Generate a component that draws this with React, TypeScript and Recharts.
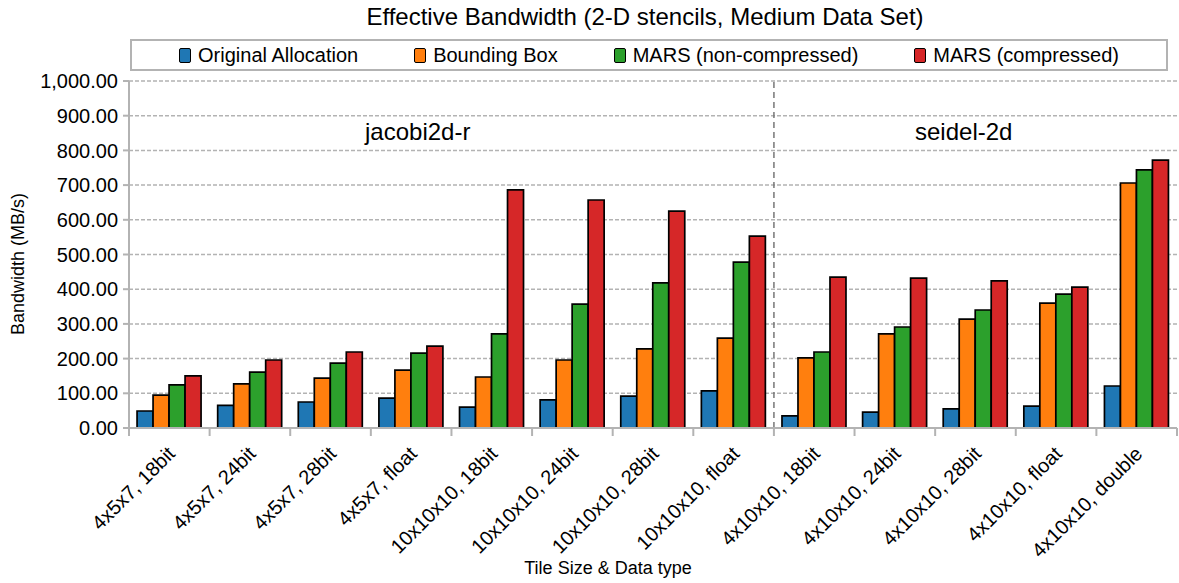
import React from "react";
import {
  BarChart,
  Bar,
  XAxis,
  YAxis,
  CartesianGrid,
  Legend,
  ReferenceLine,
  Label,
} from "recharts";

const categories = [
  "4x5x7, 18bit",
  "4x5x7, 24bit",
  "4x5x7, 28bit",
  "4x5x7, float",
  "10x10x10, 18bit",
  "10x10x10, 24bit",
  "10x10x10, 28bit",
  "10x10x10, float",
  "4x10x10, 18bit",
  "4x10x10, 24bit",
  "4x10x10, 28bit",
  "4x10x10, float",
  "4x10x10, double",
];

const originalAllocation = [49, 65, 75, 86, 60, 81, 92, 107, 35, 46, 55, 63, 121];
const boundingBox = [95, 127, 144, 167, 147, 196, 228, 259, 202, 271, 314, 360, 706];
const marsNonCompressed = [124, 161, 187, 216, 271, 357, 418, 478, 219, 291, 340, 386, 744];
const marsCompressed = [150, 196, 219, 236, 686, 657, 625, 553, 435, 432, 424, 406, 772];

const yTicks = [0, 100, 200, 300, 400, 500, 600, 700, 800, 900, 1000];

const series = [
  { key: "original", name: "Original Allocation", color: "#1f77b4" },
  { key: "bbox", name: "Bounding Box", color: "#ff7f0e" },
  { key: "marsNc", name: "MARS (non-compressed)", color: "#2ca02c" },
  { key: "marsC", name: "MARS (compressed)", color: "#d62728" },
];

const data = categories.map((name, i) => ({
  name,
  original: originalAllocation[i],
  bbox: boundingBox[i],
  marsNc: marsNonCompressed[i],
  marsC: marsCompressed[i],
}));

const W = 1179;
const H = 583;
const Y_AXIS_W = 129;
const X_AXIS_H = 155;
const MARGIN = { top: 81, right: 2, bottom: 0, left: 0 };
const STEP = (W - Y_AXIS_W - MARGIN.right) / categories.length;
const GRAY = "#b3b3b3";
const FONT = "'Liberation Sans', Arial, sans-serif";

const fmt = (v: number) =>
  v.toLocaleString("en-US", { minimumFractionDigits: 2, maximumFractionDigits: 2 });

const XTick = (props: any) => {
  const { x, y, payload, index } = props;
  const tx = x + 7;
  const ty = y + 27;
  return (
    <g>
      <line x1={x - STEP / 2} x2={x - STEP / 2} y1={y} y2={y + 8} stroke={GRAY} strokeWidth={2} />
      {index === categories.length - 1 && (
        <line x1={x + STEP / 2} x2={x + STEP / 2} y1={y} y2={y + 8} stroke={GRAY} strokeWidth={2} />
      )}
      <text
        x={tx}
        y={ty}
        textAnchor="end"
        fontSize={20}
        fill="#000"
        fontFamily={FONT}
        transform={`rotate(-45, ${tx}, ${ty})`}
      >
        {payload.value}
      </text>
    </g>
  );
};

const LegendBox = () => (
  <div
    style={{
      boxSizing: "border-box",
      width: 1038,
      height: 32,
      border: `2px solid ${GRAY}`,
      display: "flex",
      alignItems: "center",
      justifyContent: "center",
      gap: 56,
      fontFamily: FONT,
      fontSize: 20,
      color: "#000",
    }}
  >
    {series.map((s) => (
      <div key={s.key} style={{ display: "flex", alignItems: "center", gap: 7 }}>
        <span
          style={{
            display: "inline-block",
            width: 10,
            height: 13,
            background: s.color,
            border: "1px solid #000",
            borderRadius: 2,
          }}
        />
        <span>{s.name}</span>
      </div>
    ))}
  </div>
);

export default function App() {
  return (
    <div style={{ position: "absolute", left: 0, top: 0, width: W, height: H, background: "#fff", fontFamily: FONT }}>
      <div
        style={{
          position: "absolute",
          top: 3,
          left: 0,
          width: 1290,
          textAlign: "center",
          fontSize: 24,
          color: "#000",
        }}
      >
        Effective Bandwidth (2-D stencils, Medium Data Set)
      </div>
      <div style={{ position: "absolute", top: 118, left: 365, fontSize: 24, color: "#000" }}>jacobi2d-r</div>
      <div style={{ position: "absolute", top: 118, left: 915, fontSize: 24, color: "#000" }}>seidel-2d</div>
      <BarChart
        width={W}
        height={H}
        data={data}
        margin={MARGIN}
        barCategoryGap="10%"
        barGap={0}
      >
        <CartesianGrid vertical={false} stroke={GRAY} strokeDasharray="4 2" strokeWidth={1.5} />
        <XAxis
          dataKey="name"
          interval={0}
          height={X_AXIS_H}
          tickLine={false}
          tickSize={0}
          tickMargin={0}
          axisLine={{ stroke: GRAY, strokeWidth: 2 }}
          tick={<XTick />}
        >
          <Label
            content={() => (
              <text x={608} y={574} textAnchor="middle" fontSize={18} fill="#000" fontFamily={FONT}>
                Tile Size &amp; Data type
              </text>
            )}
          />
        </XAxis>
        <YAxis
          width={Y_AXIS_W}
          domain={[0, 1000]}
          ticks={yTicks}
          interval={0}
          tickFormatter={fmt}
          tickSize={6}
          tickMargin={5}
          tickLine={{ stroke: GRAY, strokeWidth: 2 }}
          axisLine={{ stroke: GRAY, strokeWidth: 2 }}
          tick={{ fill: "#000", fontSize: 20, fontFamily: FONT }}
        >
          <Label
            content={() => (
              <text
                x={24}
                y={264}
                textAnchor="middle"
                fontSize={18}
                fill="#000"
                fontFamily={FONT}
                transform="rotate(-90, 24, 264)"
              >
                Bandwidth (MB/s)
              </text>
            )}
          />
        </YAxis>
        <Legend
          layout="horizontal"
          verticalAlign="middle"
          align="center"
          content={() => <LegendBox />}
          wrapperStyle={{ top: 39, left: 130, width: 1038, height: 32 }}
        />
        {series.map((s) => (
          <Bar
            key={s.key}
            dataKey={s.key}
            name={s.name}
            fill={s.color}
            stroke="#000"
            strokeWidth={1.7}
            isAnimationActive={false}
          />
        ))}
        <ReferenceLine
          x={categories[8]}
          position="start"
          stroke="#777"
          strokeWidth={1.5}
          strokeDasharray="6 4"
        />
      </BarChart>
    </div>
  );
}
